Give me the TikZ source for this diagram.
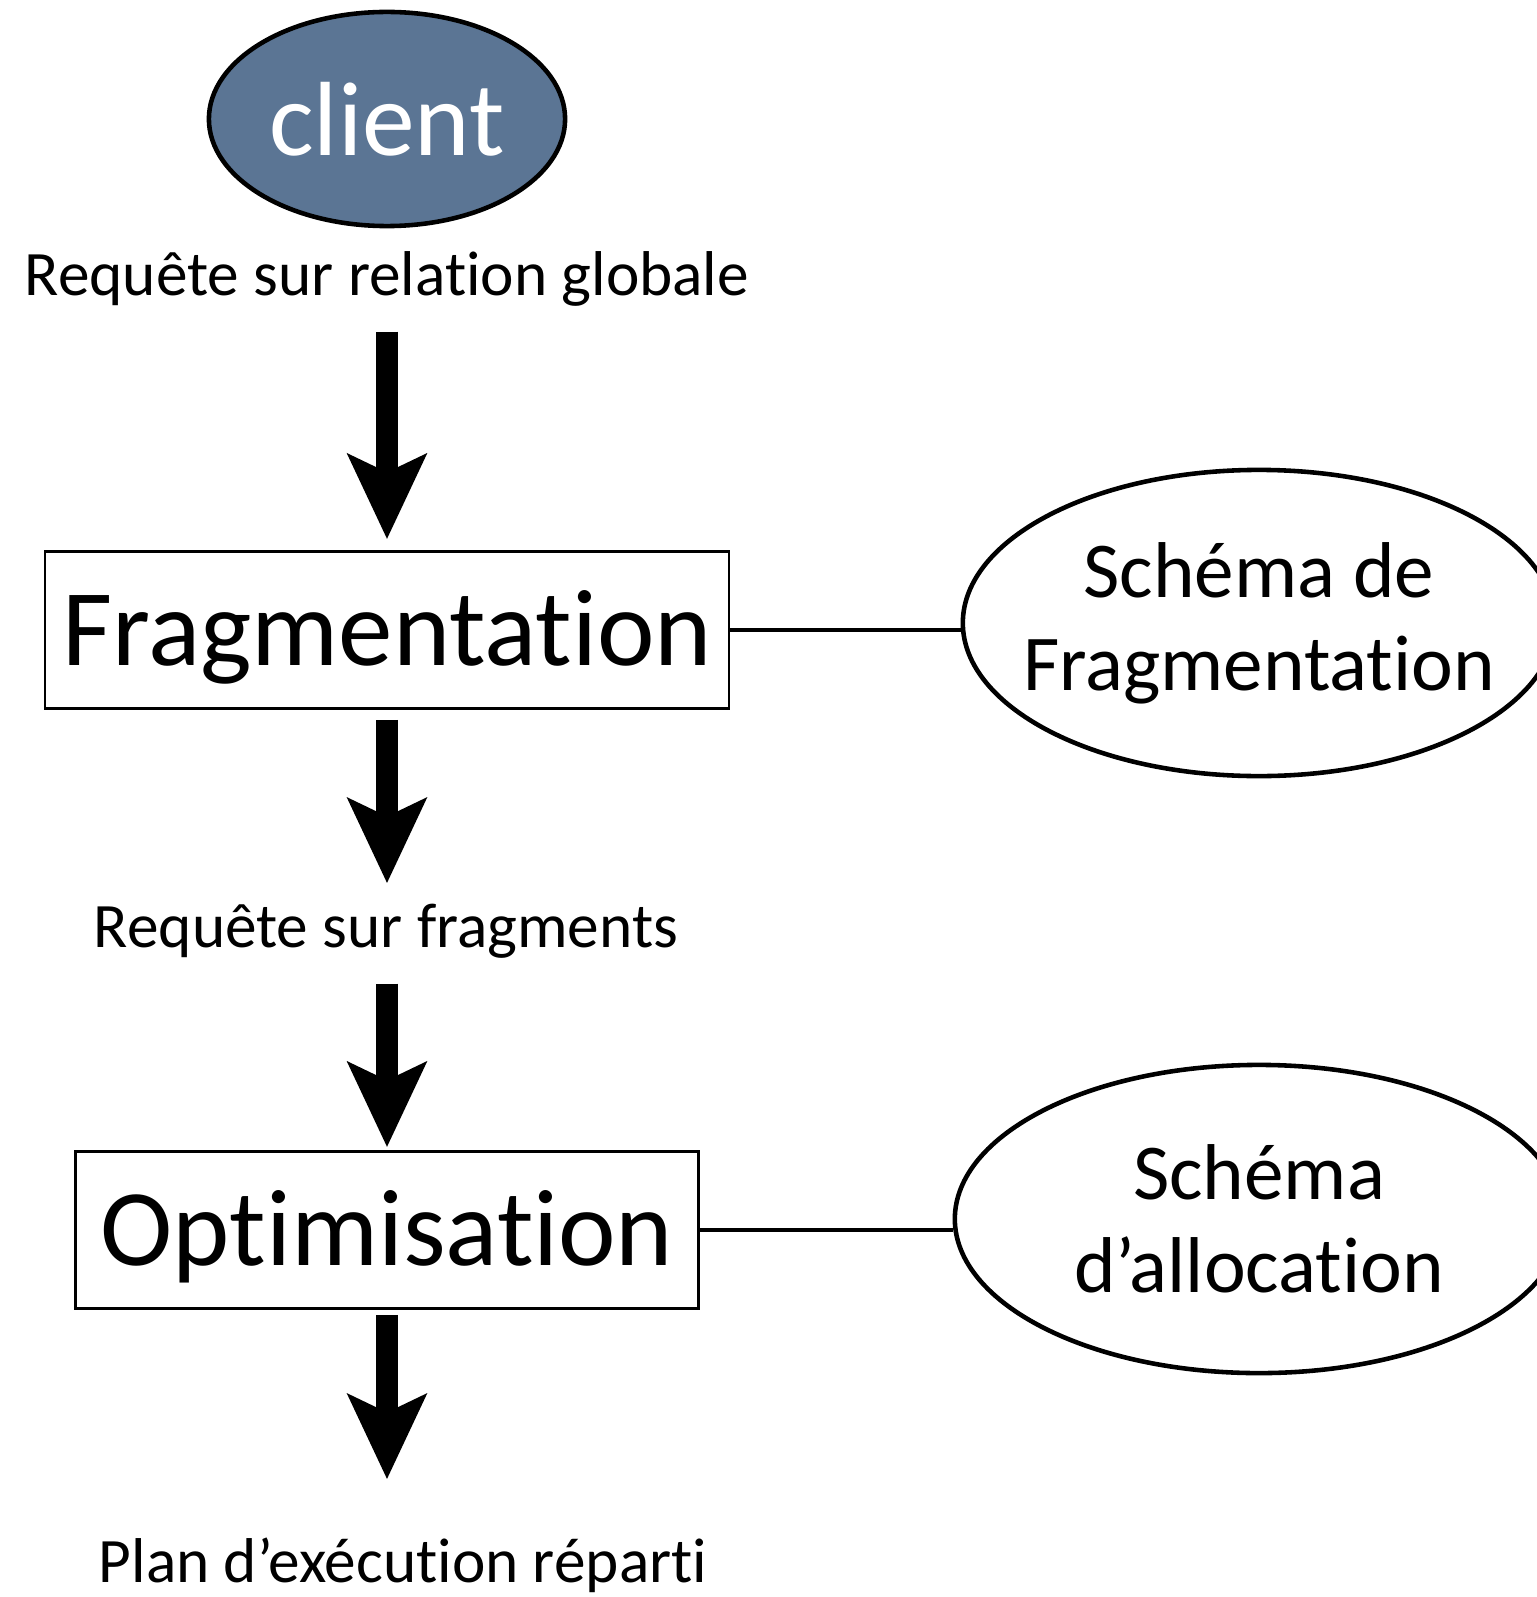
\documentclass[tikz,border=0pt]{standalone}
\usepackage{fontspec}
\setmainfont{Carlito}[Ligatures=NoCommon]
\usetikzlibrary{arrows.meta,shapes.geometric}
\definecolor{clientblue}{HTML}{5B7594}
\begin{document}
\begin{tikzpicture}[x=0.01cm,y=-0.01cm,
	label/.style={inner sep=0pt,anchor=base,text height=12.5pt,text depth=0pt,font=\fontsize{18}{20}\selectfont},
	step box/.style={draw,line width=0.7pt,inner sep=0pt,minimum height=1.57cm,text height=20pt,text depth=0pt,font=\fontsize{31}{34}\selectfont},
	schema/.style={ellipse,draw,line width=1.3pt,inner xsep=-0.45cm,inner ysep=0pt,align=center,font=\fontsize{22.5}{26.5}\selectfont},
	flow/.style={line width=6pt,-{Stealth[length=24pt,width=22pt,inset=5pt]}},
	link/.style={line width=1.4pt}]
	\useasboundingbox (0,0) rectangle (1536,1597);

	% client
	\node[ellipse,draw,line width=1.3pt,fill=clientblue,text=white,inner sep=0pt,
		minimum width=3.56cm,minimum height=2.14cm,font=\fontsize{30}{33}\selectfont] (client) at (387,119) {\raisebox{-0.05cm}{client}};
	\node[label] (req1) at (387,295) {Requête sur relation globale};

	% fragmentation
	\node[step box,minimum width=6.84cm] (frag) at (387,630) {Fragmentation};
	\node[schema,minimum width=5.92cm,minimum height=3.06cm] (schemaF) at (1259,623) {Schéma de\\Fragmentation};
	\draw[link] (frag.east) -- (frag.east -| schemaF.west);
	\node[label] (req2) at (386,947) {Requête sur fragments};

	% optimisation
	\node[step box,minimum width=6.23cm] (opt) at (387,1230) {Optimisation};
	\node[schema,minimum width=6.08cm,minimum height=3.08cm] (schemaA) at (1259,1219) {Schéma\\d’allocation};
	\draw[link] (opt.east) -- (opt.east -| schemaA.west);
	\node[label] (plan) at (403,1582) {Plan d’exécution réparti};

	% arrows
	\draw[flow,shorten <=0.36cm,shorten >=0.11cm] (req1.south -| frag.north) -- (frag.north);
	\draw[flow,shorten <=0.10cm,shorten >=0.19cm] (frag.south) -- (frag.south |- req2.north);
	\draw[flow,shorten <=0.36cm,shorten >=0.03cm] (req2.south -| opt.north) -- (opt.north);
	\draw[flow,shorten <=0.05cm,shorten >=0.58cm] (opt.south) -- (opt.south |- plan.north);
\end{tikzpicture}
\end{document}
